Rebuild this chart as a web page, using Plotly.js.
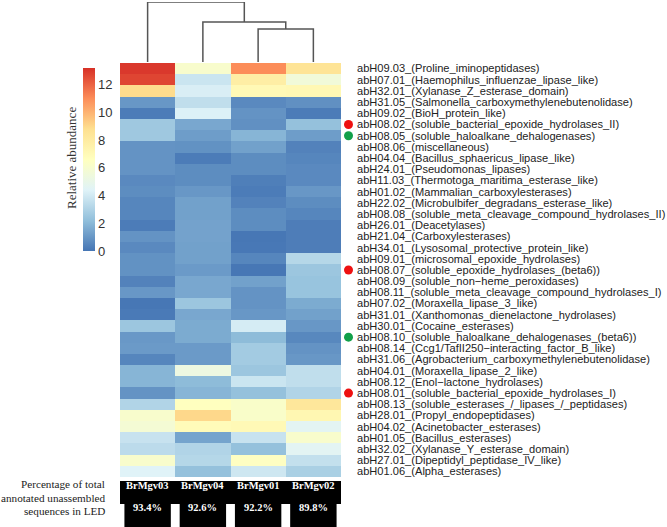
<!DOCTYPE html>
<html>
<head>
<meta charset="utf-8">
<script src="https://cdn.plot.ly/plotly-3.0.1.min.js"></script>
<style>html,body{margin:0;padding:0;background:#fff;}#chart{width:667px;height:527px;}</style>
</head>
<body>
<div id="chart"></div>
<script>
const columns = ['BrMgv03', 'BrMgv04', 'BrMgv01', 'BrMgv02'];
const percentages = ['93.4%', '92.6%', '92.2%', '89.8%'];
const rowLabels = [
  'abH09.03_(Proline_iminopeptidases)',
  'abH07.01_(Haemophilus_influenzae_lipase_like)',
  'abH32.01_(Xylanase_Z_esterase_domain)',
  'abH31.05_(Salmonella_carboxymethylenebutenolidase)',
  'abH09.02_(BioH_protein_like)',
  'abH08.02_(soluble_bacterial_epoxide_hydrolases_II)',
  'abH08.05_(soluble_haloalkane_dehalogenases)',
  'abH08.06_(miscellaneous)',
  'abH04.04_(Bacillus_sphaericus_lipase_like)',
  'abH24.01_(Pseudomonas_lipases)',
  'abH11.03_(Thermotoga_maritima_esterase_like)',
  'abH01.02_(Mammalian_carboxylesterases)',
  'abH22.02_(Microbulbifer_degradans_esterase_like)',
  'abH08.08_(soluble_meta_cleavage_compound_hydrolases_II)',
  'abH26.01_(Deacetylases)',
  'abH21.04_(Carboxylesterases)',
  'abH34.01_(Lysosomal_protective_protein_like)',
  'abH09.01_(microsomal_epoxide_hydrolases)',
  'abH08.07_(soluble_epoxide_hydrolases_(beta6))',
  'abH08.09_(soluble_non\u2212heme_peroxidases)',
  'abH08.11_(soluble_meta_cleavage_compound_hydrolases_I)',
  'abH07.02_(Moraxella_lipase_3_like)',
  'abH31.01_(Xanthomonas_dienelactone_hydrolases)',
  'abH30.01_(Cocaine_esterases)',
  'abH08.10_(soluble_haloalkane_dehalogenases_(beta6))',
  'abH08.14_(Ccg1/TafII250\u2212interacting_factor_B_like)',
  'abH31.06_(Agrobacterium_carboxymethylenebutenolidase)',
  'abH04.01_(Moraxella_lipase_2_like)',
  'abH08.12_(Enol\u2212lactone_hydrolases)',
  'abH08.01_(soluble_bacterial_epoxide_hydrolases_I)',
  'abH08.13_(soluble_esterases_/_lipases_/_peptidases)',
  'abH28.01_(Propyl_endopeptidases)',
  'abH04.02_(Acinetobacter_esterases)',
  'abH01.05_(Bacillus_esterases)',
  'abH32.02_(Xylanase_Y_esterase_domain)',
  'abH27.01_(Dipeptidyl_peptidase_IV_like)',
  'abH01.06_(Alpha_esterases)'
];
const brMgv03 = [13.0,12.7,8.9,1.0,0.2,2.6,2.6,0.9,0.9,0.9,0.6,0.7,0.5,0.5,0.2,0.9,0.6,0.85,0.85,0.4,1.0,0.05,0.15,2.5,1.05,1.1,0.5,1.9,1.9,0.9,3.1,6.1,5.8,3.7,3.4,6.1,4.4];
const brMgv04 = [6.1,3.8,4.2,3.5,4.3,1.5,1.2,0.85,0.2,0.7,0.7,1.0,1.3,1.3,1.35,1.35,1.3,1.3,1.1,1.5,1.5,2.5,1.5,1.6,1.6,1.1,1.1,5.3,2.1,1.9,6.6,9.0,6.9,1.4,3.1,3.2,2.3];
const brMgv01 = [11.0,7.8,7.0,0.6,0.9,0.8,1.9,1.3,0.7,0.7,0.3,0.2,0.4,0.7,0.7,0.05,0.1,0.5,0.05,1.3,0.9,0.9,1.0,4.1,2.1,2.7,2.7,2.5,3.8,2.3,6.2,6.2,7.0,3.7,2.3,6.5,3.9];
const brMgv02 = [8.5,5.6,7.1,0.8,0.2,2.3,1.2,0.4,0.5,0.6,0.6,1.0,0.7,0.5,0.25,0.25,0.25,3.2,2.5,2.4,2.4,1.6,1.3,1.0,0.55,0.9,1.0,3.5,3.5,3.1,8.3,7.2,4.6,6.1,4.6,3.6,2.9];
const colorbarTicks = [0, 2, 4, 6, 8, 10, 12];
// dendrogram merges: [left, right, height]; negative ids refer to earlier merges
const merges = [[2, 3, 33], [1, -1, 40], [0, -2, 60]];
const redMarked = ['abH08.02_(soluble_bacterial_epoxide_hydrolases_II)', 'abH08.07_(soluble_epoxide_hydrolases_(beta6))', 'abH08.01_(soluble_bacterial_epoxide_hydrolases_I)'];
const greenMarked = ['abH08.05_(soluble_haloalkane_dehalogenases)', 'abH08.10_(soluble_haloalkane_dehalogenases_(beta6))'];

const W = 667, H = 527;
const px = v => v / W, py = v => 1 - v / H;

const seriesByCol = [brMgv03, brMgv04, brMgv01, brMgv02];
const z = rowLabels.map((_, r) => seriesByCol.map(s => s[r]));

const rdylbu = ['#4575B4', '#91BFDB', '#E0F3F8', '#FFFFBF', '#FEE090', '#FC8D59', '#D73027'];
const colorscale = rdylbu.map((c, i) => [i / (rdylbu.length - 1), c]);

const heat = {
  type: 'heatmap', x: [0, 1, 2, 3], y: rowLabels, z: z,
  zmin: 0, zmax: 13.2, colorscale: colorscale, hoverinfo: 'skip',
  xaxis: 'x', yaxis: 'y',
  colorbar: {
    x: px(83), xanchor: 'left', xpad: 0, y: py(68), yanchor: 'top', ypad: 0,
    len: 183, lenmode: 'pixels', thickness: 12, thicknessmode: 'pixels',
    outlinewidth: 0, tickvals: colorbarTicks, ticks: '',
    tickfont: {family: 'Liberation Sans, Arial, sans-serif', size: 13, color: '#333'}
  }
};

const pos = {}; const hgt = {};
[0, 1, 2, 3].forEach(i => { pos[i] = i; hgt[i] = 0; });
const dx = [], dy = [];
merges.forEach((m, k) => {
  const a = m[0], b = m[1], h = m[2];
  dx.push(pos[a], pos[a], pos[b], pos[b], null);
  dy.push(hgt[a], h, h, hgt[b], null);
  const id = -(k + 1);
  pos[id] = (pos[a] + pos[b]) / 2; hgt[id] = h;
});
const dendro = {
  type: 'scatter', mode: 'lines', x: dx, y: dy, xaxis: 'x2', yaxis: 'y2',
  line: {color: '#555', width: 1.5}, hoverinfo: 'skip', showlegend: false
};

const dots = {
  type: 'scatter', mode: 'markers',
  x: redMarked.map(() => 0.5).concat(greenMarked.map(() => 0.5)),
  y: redMarked.concat(greenMarked),
  marker: {size: 9, color: redMarked.map(() => '#EE1111').concat(greenMarked.map(() => '#12A04A'))},
  xaxis: 'x3', yaxis: 'y', hoverinfo: 'skip', showlegend: false
};

const shapes = [];
const annotations = [];
shapes.push({type: 'rect', xref: 'x', yref: 'paper', x0: -0.59, x1: 3.54, y0: py(504), y1: py(481), fillcolor: '#000', line: {width: 0}, layer: 'above'});
columns.forEach((c, i) => {
  shapes.push({type: 'rect', xref: 'x', yref: 'paper', x0: i - 0.42, x1: i + 0.42, y0: 0, y1: py(503), fillcolor: '#000', line: {width: 0}, layer: 'above'});
  annotations.push({xref: 'x', yref: 'paper', x: i, y: py(492.5), text: '<b>' + c + '</b>', showarrow: false,
    font: {family: 'Liberation Serif, Times New Roman, serif', size: 10.5, color: '#fff'}});
  annotations.push({xref: 'x', yref: 'paper', x: i, y: py(514.5), text: '<b>' + percentages[i] + '</b>', showarrow: false,
    font: {family: 'Liberation Serif, Times New Roman, serif', size: 10.5, color: '#fff'}});
});
['Percentage of total', 'annotated unassembled', 'sequences in LED'].forEach((t, i) => {
  annotations.push({xref: 'paper', yref: 'paper', x: px(107), y: py(492 + i * 13.6), xanchor: 'right', text: t, showarrow: false,
    font: {family: 'Liberation Serif, Times New Roman, serif', size: 11.2, color: '#222'}});
});
annotations.push({xref: 'paper', yref: 'paper', x: px(71), xanchor: 'center', y: py(158), yanchor: 'middle', text: 'Relative abundance', textangle: -90, showarrow: false,
  font: {family: 'Liberation Serif, Times New Roman, serif', size: 13, color: '#333'}});

const layout = {
  width: W, height: H, margin: {l: 0, r: 0, t: 0, b: 0},
  paper_bgcolor: '#fff', plot_bgcolor: '#fff', showlegend: false,
  xaxis: {domain: [px(120), px(341)], range: [-0.5, 3.5], showticklabels: false, ticks: '', showgrid: false, zeroline: false, showline: false, fixedrange: true},
  yaxis: {domain: [py(477), py(63)], type: 'category', autorange: 'reversed', side: 'right', ticks: '', ticklabelstandoff: 15,
    tickmode: 'array', tickvals: rowLabels, ticktext: rowLabels,
    showgrid: false, zeroline: false, showline: false,
    tickfont: {family: 'Liberation Sans, Arial, sans-serif', size: 11.1, color: '#222'}},
  xaxis2: {domain: [px(120), px(341)], range: [-0.5, 3.5], anchor: 'y2', visible: false},
  yaxis2: {domain: [py(62), py(2)], range: [0, 60], anchor: 'x2', visible: false},
  xaxis3: {domain: [px(341), px(356)], range: [0, 1], anchor: 'y', visible: false},
  shapes: shapes, annotations: annotations
};

Plotly.newPlot('chart', [heat, dendro, dots], layout, {displayModeBar: false, staticPlot: true});
</script>
</body>
</html>
